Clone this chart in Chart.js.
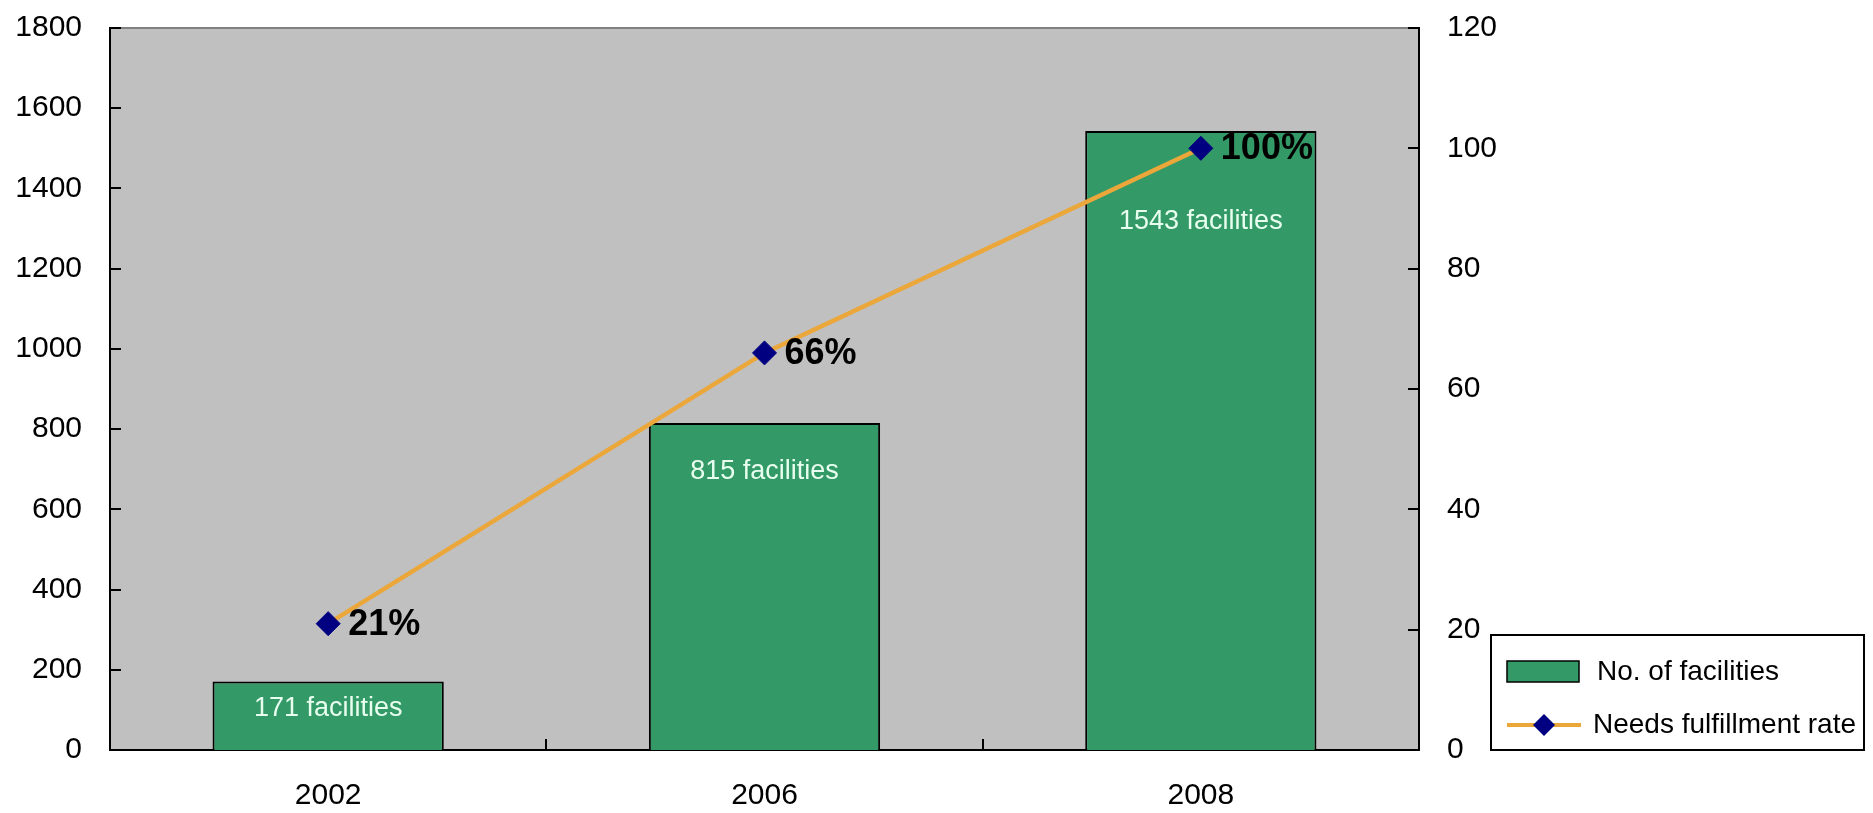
<!DOCTYPE html>
<html>
<head>
<meta charset="utf-8">
<script src="https://cdn.jsdelivr.net/npm/chart.js@4.4.1/dist/chart.umd.min.js"></script>
<style>
  html, body { margin: 0; padding: 0; background: #ffffff; }
  #wrap { width: 1873px; height: 813px; position: relative; }
</style>
</head>
<body>
<div id="wrap"><canvas id="c"></canvas></div>
<script>
// ---- data ----
const categories = ['2002', '2006', '2008'];
const facilities = [171, 815, 1543];
const fulfillmentRate = [21, 66, 100];
const facilityLabels = ['171 facilities', '815 facilities', '1543 facilities'];
const rateLabels = ['21%', '66%', '100%'];
const leftTicks = { min: 0, max: 1800, step: 200 };
const rightTicks = { min: 0, max: 120, step: 20 };
const seriesNames = ['No. of facilities', 'Needs fulfillment rate'];

const FONT = "'Liberation Sans', Arial, sans-serif";
const GREEN = '#339966';
const ORANGE = '#EBA73A';
const NAVY = '#000080';
const barLabelDrop = [27, 48, 90];

const plotBg = {
  id: 'plotBg',
  beforeDraw(chart) {
    const { ctx, chartArea: a } = chart;
    ctx.save();
    ctx.fillStyle = '#C0C0C0';
    ctx.fillRect(a.left, a.top, a.right - a.left, a.bottom - a.top);
    ctx.strokeStyle = '#808080';
    ctx.lineWidth = 2;
    ctx.beginPath();
    ctx.moveTo(a.left, a.top);
    ctx.lineTo(a.right, a.top);
    ctx.stroke();
    ctx.restore();
  }
};

const innerTicks = {
  id: 'innerTicks',
  afterDraw(chart) {
    const { ctx, chartArea: a, scales } = chart;
    ctx.save();
    ctx.strokeStyle = '#000';
    ctx.lineWidth = 2;
    const L = 11;
    scales.y.ticks.forEach((t, i) => {
      const py = Math.round(scales.y.getPixelForTick(i));
      ctx.beginPath(); ctx.moveTo(a.left, py); ctx.lineTo(a.left + L, py); ctx.stroke();
    });
    scales.y1.ticks.forEach((t, i) => {
      const py = Math.round(scales.y1.getPixelForTick(i));
      ctx.beginPath(); ctx.moveTo(a.right, py); ctx.lineTo(a.right - L, py); ctx.stroke();
    });
    const xs = scales.x;
    for (let i = 1; i < xs.ticks.length; i++) {
      const px = Math.round((xs.getPixelForTick(i - 1) + xs.getPixelForTick(i)) / 2);
      ctx.beginPath(); ctx.moveTo(px, a.bottom); ctx.lineTo(px, a.bottom - L); ctx.stroke();
    }
    ctx.restore();
  }
};

const valueLabels = {
  id: 'valueLabels',
  afterDatasetsDraw(chart) {
    const { ctx } = chart;
    ctx.save();
    const barMeta = chart.getDatasetMeta(1);
    ctx.fillStyle = '#E8FFF0';
    ctx.font = `27px ${FONT}`;
    ctx.textAlign = 'center';
    ctx.textBaseline = 'middle';
    barMeta.data.forEach((el, i) => {
      ctx.fillText(facilityLabels[i], el.x, el.y + barLabelDrop[i]);
    });
    const lineMeta = chart.getDatasetMeta(0);
    ctx.fillStyle = '#000';
    ctx.font = `bold 36px ${FONT}`;
    ctx.textAlign = 'left';
    lineMeta.data.forEach((el, i) => {
      ctx.fillText(rateLabels[i], el.x + 20, el.y + 1);
    });
    ctx.restore();
  }
};

const boxLegend = {
  id: 'boxLegend',
  afterDraw(chart) {
    const { ctx, chartArea: a } = chart;
    const left = a.right + 72, right = left + 373;
    const bottom = a.bottom, top = bottom - 115;
    ctx.save();
    ctx.fillStyle = '#fff';
    ctx.fillRect(left, top, right - left, bottom - top);
    ctx.strokeStyle = '#000';
    ctx.lineWidth = 2;
    ctx.strokeRect(left, top, right - left, bottom - top);
    const y1 = top + 37;
    ctx.fillStyle = GREEN;
    ctx.fillRect(left + 16, y1 - 11, 72, 21);
    ctx.lineWidth = 1.5;
    ctx.strokeRect(left + 16, y1 - 11, 72, 21);
    ctx.fillStyle = '#000';
    ctx.font = `28px ${FONT}`;
    ctx.textAlign = 'left';
    ctx.textBaseline = 'middle';
    ctx.fillText(chart.data.datasets[1].label, left + 106, y1);
    const y2 = top + 90;
    ctx.strokeStyle = ORANGE;
    ctx.lineWidth = 4;
    ctx.beginPath(); ctx.moveTo(left + 16, y2); ctx.lineTo(left + 90, y2); ctx.stroke();
    const cx = left + 53, r = 11;
    ctx.fillStyle = NAVY;
    ctx.beginPath();
    ctx.moveTo(cx - r, y2); ctx.lineTo(cx, y2 - r); ctx.lineTo(cx + r, y2); ctx.lineTo(cx, y2 + r);
    ctx.closePath(); ctx.fill();
    ctx.fillStyle = '#000';
    ctx.fillText(chart.data.datasets[0].label, left + 102, y2);
    ctx.restore();
  }
};

const plainNum = (v) => String(v);
const fitY = (w) => (s) => { s.width = w; s.paddingTop = 0; s.paddingBottom = 0; };

new Chart(document.getElementById('c'), {
  type: 'bar',
  data: {
    labels: categories,
    datasets: [
      {
        type: 'line',
        label: seriesNames[1],
        data: fulfillmentRate,
        yAxisID: 'y1',
        borderColor: ORANGE,
        borderWidth: 4.5,
        pointStyle: 'rectRot',
        pointRadius: 12,
        pointHoverRadius: 12,
        pointBackgroundColor: NAVY,
        pointBorderColor: NAVY,
        pointBorderWidth: 1,
        tension: 0,
        fill: false,
        order: 0
      },
      {
        type: 'bar',
        label: seriesNames[0],
        data: facilities,
        yAxisID: 'y',
        backgroundColor: GREEN,
        borderColor: '#000',
        borderWidth: 2,
        borderSkipped: 'bottom',
        categoryPercentage: 1.0,
        barPercentage: 0.53,
        order: 1
      }
    ]
  },
  options: {
    responsive: true,
    maintainAspectRatio: false,
    animation: false,
    devicePixelRatio: 1,
    layout: { padding: { top: 28, right: 354, bottom: 0, left: 0 } },
    plugins: {
      legend: { display: false },
      tooltip: { enabled: false }
    },
    scales: {
      x: {
        offset: true,
        grid: { display: false, drawTicks: false },
        border: { display: true, color: '#000', width: 2 },
        ticks: { color: '#000', font: { family: FONT, size: 30 }, padding: 28 },
        afterFit(s) { s.height = 63; s.paddingLeft = 0; s.paddingRight = 0; }
      },
      y: {
        position: 'left',
        min: leftTicks.min, max: leftTicks.max,
        grid: { display: false, drawTicks: false },
        border: { display: true, color: '#000', width: 2 },
        ticks: { stepSize: leftTicks.step, color: '#000', font: { family: FONT, size: 30 }, padding: 28, callback: plainNum },
        afterFit: fitY(110)
      },
      y1: {
        position: 'right',
        min: rightTicks.min, max: rightTicks.max,
        grid: { display: false, drawTicks: false },
        border: { display: true, color: '#000', width: 2 },
        ticks: { stepSize: rightTicks.step, color: '#000', font: { family: FONT, size: 30 }, padding: 28, callback: plainNum },
        afterFit: fitY(100)
      }
    }
  },
  plugins: [plotBg, innerTicks, valueLabels, boxLegend]
});
</script>
</body>
</html>
